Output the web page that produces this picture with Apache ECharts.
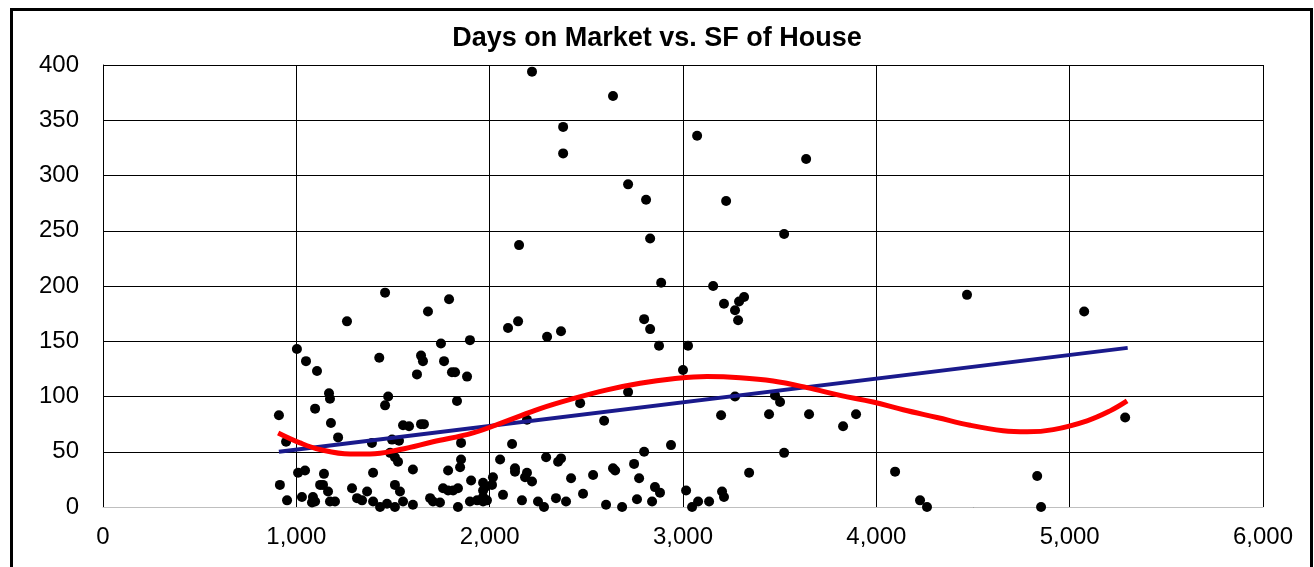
<!DOCTYPE html>
<html>
<head>
<meta charset="utf-8">
<script src="https://cdn.jsdelivr.net/npm/echarts@6/dist/echarts.min.js"></script>
<style>
html,body{margin:0;padding:0;background:#fff;}
#chart{width:1314px;height:567px;}
</style>
</head>
<body>
<div id="chart"></div>
<script>
var titleText = 'Days on Market vs. SF of House';
var xTicks = [0, 1000, 2000, 3000, 4000, 5000, 6000];
var yTicks = [0, 50, 100, 150, 200, 250, 300, 350, 400];

// square feet (x) and days on market (y)
var sqft = [
  910,1003,1050,1107,1169,1174,1097,1179,1216,947,
  1262,1459,1429,1475,1459,1391,1681,1748,1645,1655,
  1764,1624,1790,1552,1583,1645,1660,1495,1531,1485,
  1510,1526,1603,1785,915,952,1009,1045,1029,1086,
  1097,1081,1143,1123,1138,1164,1174,1200,1288,1314,
  1340,1366,1397,1433,1469,1510,1510,1536,1552,1603,
  1692,1707,1743,1759,1785,1811,1836,1397,
  2887,3156,2095,2147,2297,2369,1898,1805,1821,1883,
  1831,2799,2830,2876,3026,3000,3212,3269,3290,3316,
  3285,3269,3476,3502,3445,3652,3828,3895,3197,3523,
  3342,2468,2592,2716,2193,2116,1852,2938,2799,3016,
  3047,3078,3135,3202,3212,1852,1847,2054,2131,2131,
  2193,2183,2219,2292,2354,2369,2421,2535,2638,2649,
  2747,2773,2855,2881,1904,2017,2012,1966,1976,1966,
  2069,2167,2250,2281,2343,2395,2483,2602,2685,2762,
  2840,1836,1898,1935,1966,1986,1966,
  2219,2638,2380,2380,3073,3637,2716,2809,3223,2830,
  3523,2152,
  4469,5075,5287,4097,4226,4262,4832,4852
];
var days = [
  83,143,132,123,103,98,89,76,63,59,
  168,194,135,100,92,58,177,148,137,132,
  132,120,188,74,73,75,75,61,60,49,
  45,41,34,33,20,6,31,33,9,9,
  5,4,30,20,20,14,5,5,17,8,
  6,14,5,0,3,0,20,14,5,2,
  8,5,4,17,15,15,17,31,
  203,200,162,168,154,159,151,122,122,118,
  96,170,161,146,146,124,184,178,186,190,
  169,100,101,95,84,84,73,84,83,49,
  31,94,78,104,79,57,58,56,50,15,
  0,5,5,14,9,43,36,43,35,32,
  31,27,23,45,41,44,26,29,35,33,
  39,26,18,13,24,27,20,22,18,15,
  11,6,5,0,8,5,12,2,0,7,
  5,0,5,6,5,6,9,
  394,372,344,320,336,315,292,278,277,243,
  247,237,
  192,177,81,32,6,0,28,0
];

// linear trend line at its two ends
var linearX = [910, 5300];
var linearY = [50, 144];

// polynomial trend line
var polyX = [906,1019,1122,1278,1381,1536,1707,1914,2090,2261,2431,2607,2778,2949,3124,3295,3466,3642,3813,3983,4139,4314,4485,4656,4780,4915,5090,5209,5297];
var polyY = [67,58,52,48,48,52,59,67,78,89,98,106,112,116,118,117,114,108,101,95,88,81,74,69,68,70,78,87,96];

function zip(a, b) { return a.map(function (v, i) { return [v, b[i]]; }); }

var chart = echarts.init(document.getElementById('chart'));
var fontFam = '"Liberation Sans", Arial, sans-serif';
chart.setOption({
  animation: false,
  backgroundColor: '#ffffff',
  title: {
    text: titleText,
    left: 'center',
    top: 20,
    textStyle: { fontFamily: fontFam, fontSize: 27, fontWeight: 'bold', color: '#000' }
  },
  graphic: [{
    type: 'rect',
    shape: { x: 11.5, y: 9.5, width: 1300, height: 700 },
    style: { fill: 'none', stroke: '#000', lineWidth: 3 },
    silent: true
  }],
  grid: { left: 103, right: 51, top: 65, bottom: 60 },
  xAxis: {
    type: 'value',
    min: xTicks[0], max: xTicks[xTicks.length - 1], interval: 1000,
    axisLine: { show: true, lineStyle: { color: '#bfbfbf', width: 1 } },
    axisTick: { show: false },
    splitLine: { show: true, lineStyle: { color: '#000', width: 1 } },
    axisLabel: {
      margin: 18, color: '#000', fontFamily: fontFam, fontSize: 24,
      formatter: function (v) { return v.toLocaleString('en-US'); }
    }
  },
  yAxis: {
    type: 'value',
    min: yTicks[0], max: yTicks[yTicks.length - 1], interval: 50,
    axisLine: { show: true, lineStyle: { color: '#000', width: 1 } },
    axisTick: { show: false },
    splitLine: { show: true, lineStyle: { color: '#000', width: 1 } },
    axisLabel: { margin: 24, color: '#000', fontFamily: fontFam, fontSize: 24 }
  },
  series: [
    {
      type: 'scatter',
      data: zip(sqft, days),
      symbolSize: 10,
      itemStyle: { color: '#000', opacity: 1 },
      z: 2
    },
    {
      type: 'line',
      data: zip(linearX, linearY),
      showSymbol: false,
      symbol: 'none',
      lineStyle: { color: '#1a1a8c', width: 4 },
      z: 3
    },
    {
      type: 'line',
      data: zip(polyX, polyY),
      smooth: 0.4,
      showSymbol: false,
      symbol: 'none',
      lineStyle: { color: '#ff0000', width: 5 },
      z: 4
    }
  ]
});
</script>
</body>
</html>
